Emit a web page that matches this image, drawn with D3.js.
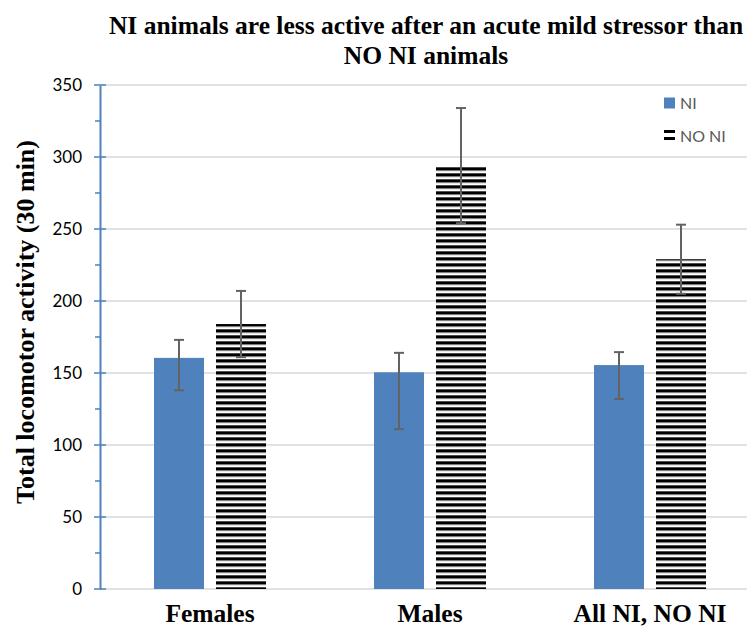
<!DOCTYPE html>
<html>
<head>
<meta charset="utf-8">
<script src="https://cdn.jsdelivr.net/npm/d3@7"></script>
<style>
  html, body { margin: 0; padding: 0; background: #fff; }
  svg { display: block; }
</style>
</head>
<body>
<svg id="chart" width="747" height="630"></svg>
<script>
// ---- data ----
const categories = ["Females", "Males", "All NI, NO NI"];
const seriesNames = ["NI", "NO NI"];
const niValues   = [160.5, 150.5, 155.5];
const niUpper    = [173, 164, 164.5];
const niLower    = [138, 111, 132];
const noniValues = [184, 293.5, 229];
const noniUpper  = [207, 334, 253];
const noniLower  = [161, 254, 205];
const yTicks = [0, 50, 100, 150, 200, 250, 300, 350];
const titleLines = ["NI animals are less active after an acute mild stressor than", "NO NI animals"];
const yTitle = "Total locomotor activity (30 min)";

(function () {
// ---- layout ----
const svg = d3.select("#chart");
const left = 100, right = 760, plotTop = 85, plotBottom = 589;
const serif = "'Liberation Serif', 'Times New Roman', serif";
const sans = "Lato, 'Open Sans', sans-serif";

const x = d3.scaleBand().domain(categories).range([left, right]).paddingInner(0).paddingOuter(0);
const groupWidth = 112;
const xs = d3.scaleBand().domain(seriesNames).range([0, groupWidth]).paddingInner(12 / 62).paddingOuter(0);
const y = d3.scaleLinear().domain([0, 350]).range([plotBottom, plotTop]);

const defs = svg.append("defs");
const pat = defs.append("pattern")
  .attr("id", "stripes")
  .attr("patternUnits", "userSpaceOnUse")
  .attr("x", 0).attr("y", 5.3)
  .attr("width", 8).attr("height", 6);
pat.append("rect").attr("x", 0).attr("y", 0).attr("width", 8).attr("height", 3.3).attr("fill", "#000");

// gridlines
svg.append("g").selectAll("line").data(yTicks).join("line")
  .attr("x1", left).attr("x2", right)
  .attr("y1", d => y(d)).attr("y2", d => y(d))
  .attr("stroke", "#d9d9d9").attr("stroke-width", 1.3);

// bars
const rows = categories.map((c, i) => [
  { cat: c, s: "NI", v: niValues[i], hi: niUpper[i], lo: niLower[i] },
  { cat: c, s: "NO NI", v: noniValues[i], hi: noniUpper[i], lo: noniLower[i] }
]).flat();

const groupOffset = (x.bandwidth() - groupWidth) / 2;
const bx = d => x(d.cat) + groupOffset + xs(d.s);

svg.append("g").selectAll("rect").data(rows).join("rect")
  .attr("x", d => bx(d))
  .attr("width", xs.bandwidth())
  .attr("y", d => y(d.v))
  .attr("height", d => y(0) - y(d.v))
  .attr("fill", d => d.s === "NI" ? "#4f81bd" : "url(#stripes)");

// error bars
const eb = svg.append("g").attr("stroke", "#636363").attr("stroke-width", 2);
rows.forEach(d => {
  const cx = bx(d) + xs.bandwidth() / 2;
  eb.append("line").attr("x1", cx).attr("x2", cx).attr("y1", y(d.hi)).attr("y2", y(d.lo));
  eb.append("line").attr("x1", cx - 5).attr("x2", cx + 5).attr("y1", y(d.hi)).attr("y2", y(d.hi));
  eb.append("line").attr("x1", cx - 5).attr("x2", cx + 5).attr("y1", y(d.lo)).attr("y2", y(d.lo));
});

// y axis
const axisColor = "#4f81bd";
const yAxis = d3.axisLeft(y).tickValues(yTicks).tickSize(0).tickPadding(18);
const ga = svg.append("g").attr("transform", `translate(${left},0)`).call(yAxis);
ga.select(".domain").attr("stroke", axisColor).attr("stroke-width", 2);
ga.selectAll("text").attr("font-family", sans).attr("font-size", 17).attr("fill", "#000");
// major ticks
svg.append("g").selectAll("line").data(yTicks).join("line")
  .attr("x1", left - 6).attr("x2", left + 6)
  .attr("y1", d => y(d)).attr("y2", d => y(d))
  .attr("stroke", axisColor).attr("stroke-width", 1.5);
// minor ticks
const minor = d3.range(25, 350, 50);
svg.append("g").selectAll("line").data(minor).join("line")
  .attr("x1", left - 5).attr("x2", left)
  .attr("y1", d => y(d)).attr("y2", d => y(d))
  .attr("stroke", axisColor).attr("stroke-width", 1.5);

// x labels
svg.append("g").selectAll("text").data(categories).join("text")
  .attr("x", d => x(d) + x.bandwidth() / 2)
  .attr("y", 622)
  .attr("text-anchor", "middle")
  .attr("font-family", serif)
  .attr("font-weight", "bold")
  .attr("font-size", 25.5)
  .text(d => d);

// title
svg.append("g").selectAll("text").data(titleLines).join("text")
  .attr("x", 426)
  .attr("y", (d, i) => 34 + i * 30)
  .attr("text-anchor", "middle")
  .attr("font-family", serif)
  .attr("font-weight", "bold")
  .attr("font-size", 25.5)
  .text(d => d);

// y title
svg.append("text")
  .attr("transform", "translate(34,322) rotate(-90)")
  .attr("text-anchor", "middle")
  .attr("font-family", serif)
  .attr("font-weight", "bold")
  .attr("font-size", 26)
  .text(yTitle);

// legend
const lg = svg.append("g");
const legendRows = [{ s: "NI", y: 103 }, { s: "NO NI", y: 136 }];
legendRows.forEach(r => {
  if (r.s === "NI") {
    lg.append("rect").attr("x", 664).attr("y", r.y - 5.5).attr("width", 11).attr("height", 11).attr("fill", "#4f81bd");
  } else {
    lg.append("rect").attr("x", 664).attr("y", r.y - 6).attr("width", 11).attr("height", 3).attr("fill", "#000");
    lg.append("rect").attr("x", 664).attr("y", r.y + 1).attr("width", 11).attr("height", 3).attr("fill", "#000");
  }
  lg.append("text").attr("x", 680).attr("y", r.y).attr("dy", "0.35em")
    .attr("font-family", sans).attr("font-size", 16)
    .attr("fill", "#595959").text(r.s);
});
})();
</script>
</body>
</html>
